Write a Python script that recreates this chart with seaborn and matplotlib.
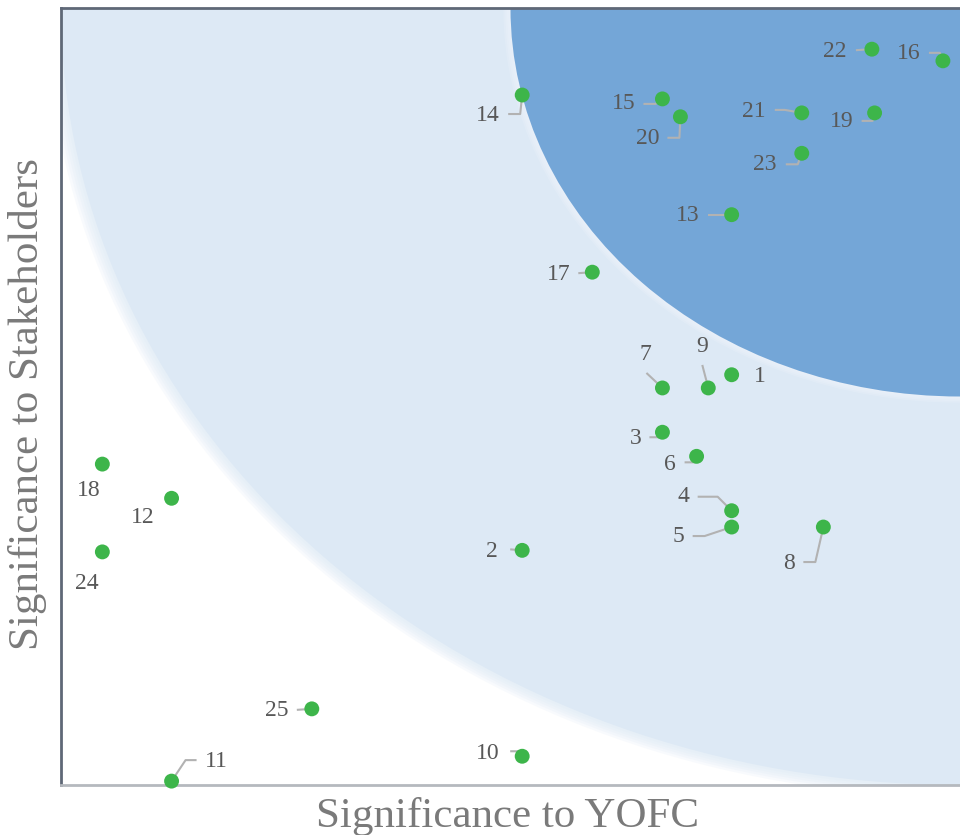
import matplotlib
matplotlib.use("Agg")
import matplotlib.pyplot as plt
import seaborn as sns
import pandas as pd
import numpy as np
from matplotlib.patches import Circle

ids = [str(i) for i in range(1, 26)]
yofc = [7.46, 5.13, 6.69, 7.46, 7.46, 7.07, 6.69, 8.48, 7.20, 5.13,
        1.23, 1.23, 7.46, 5.13, 6.69, 9.81, 5.91, 0.46, 9.05, 6.89,
        8.24, 9.02, 8.24, 0.46, 2.79]
stake = [5.28, 3.02, 4.54, 3.53, 3.32, 4.23, 5.11, 3.32, 5.11, 0.37,
         0.05, 3.69, 7.34, 8.88, 8.83, 9.32, 6.60, 4.13, 8.65, 8.60,
         8.65, 9.47, 8.13, 3.00, 0.98]

# label layout (pixel offsets: right, down)
lab_off = {1: (28, 2), 2: (-30, 1), 3: (-27, 6), 4: (-48, -14), 5: (-53, 9),
           6: (-27, 8), 7: (-17, -33), 8: (-34, 36), 9: (-6, -41), 10: (-34, -3),
           11: (45, -20), 12: (-29, 19), 13: (-44, 1), 14: (-34, 20), 15: (-39, 5),
           16: (-34, -7), 17: (-34, 2), 18: (-14, 26), 19: (-33, 9), 20: (-33, 22),
           21: (-48, -1), 22: (-37, 2), 23: (-37, 11), 24: (-16, 32), 25: (-35, 2)}
leaders = {2: [(-12, -1)], 3: [(-13, 5), (-3, 5)], 4: [(-34, -14), (-14, -14)],
           5: [(-39, 9), (-27, 9)], 6: [(-12, 6), (-2, 6)], 7: [(-16, -15)],
           8: [(-20, 35), (-8, 35)], 9: [(-6, -23)], 10: [(-12, -5), (-4, -5)],
           11: [(25, -21), (14, -21)], 13: [(-24, 0)], 14: [(-14, 19), (-2, 19)],
           15: [(-19, 5), (-7, 5)], 16: [(-14, -8), (-3, -8)], 17: [(-14, 1)],
           19: [(-13, 8), (-2, 8)], 20: [(-13, 21), (-1, 21)], 21: [(-27, -3), (-17, -3)],
           22: [(-16, 1)], 23: [(-16, 11), (-4, 11)], 25: [(-15, 1)]}

df = pd.DataFrame({"id": ids, "yofc": yofc, "stake": stake})

sns.set_theme(style="white")
plt.rcParams['font.family'] = ['Liberation Serif', 'DejaVu Serif']

fig = plt.figure(figsize=(9.6, 8.35), dpi=100)
ax = fig.add_axes([61/960, 50/835, 899/960, 777/835])
ax.set_xlim(0, 10)
ax.set_ylim(0, 10)

# soft edge of light zone
for k in range(5):
    ax.add_patch(Circle((10, 10), 10 + 0.03 * (5 - k), facecolor="#dde9f5", edgecolor="none",
                        alpha=0.2, zorder=1))
ax.add_patch(Circle((10, 10), 10, facecolor="#dde9f5", edgecolor="none", zorder=1))
for k in range(4):
    ax.add_patch(Circle((10, 10), 5 + 0.02 * (4 - k), facecolor="#eef4fb", edgecolor="none",
                        alpha=0.25, zorder=2))
ax.add_patch(Circle((10, 10), 5, facecolor="#74a6d7", edgecolor="none", zorder=2))

sns.scatterplot(data=df, x="yofc", y="stake", ax=ax, color="#3db54a", s=115,
                edgecolor="none", linewidth=0, zorder=5, clip_on=False, legend=False)

px2x = 10 / 899
px2y = 10 / 777
for i, (x, y) in enumerate(zip(yofc, stake), start=1):
    dx, dy = lab_off[i]
    ax.annotate(ids[i-1], xy=(x, y), xytext=(dx, -dy), textcoords="offset pixels",
                ha="center", va="center", fontsize=17, color="#585858", zorder=6)
    if i in leaders:
        pts = leaders[i] + [(0, 0)]
        lx = [x + p[0] * px2x for p in pts]
        ly = [y - p[1] * px2y for p in pts]
        ax.plot(lx, ly, color="#b2b2b2", lw=1.5, zorder=4, solid_capstyle="butt", clip_on=False)

ax.set_xticks([])
ax.set_yticks([])
ax.set_xlabel("Significance to YOFC", fontsize=31, color="#7a7a7a")
ax.set_ylabel("Significance to Stakeholders", fontsize=31, color="#7a7a7a")
ax.xaxis.set_label_coords(0.497, -0.015, transform=ax.transAxes)
ax.xaxis.label.set_va("top")
ax.yaxis.set_label_coords(-0.016, 0.49, transform=ax.transAxes)

for side in ["left", "top"]:
    ax.spines[side].set_color("#5f6877")
    ax.spines[side].set_linewidth(2)
ax.spines["bottom"].set_color("#b5b9be")
ax.spines["bottom"].set_linewidth(2)
ax.spines["right"].set_visible(False)

fig.savefig("out.png", dpi=100)
